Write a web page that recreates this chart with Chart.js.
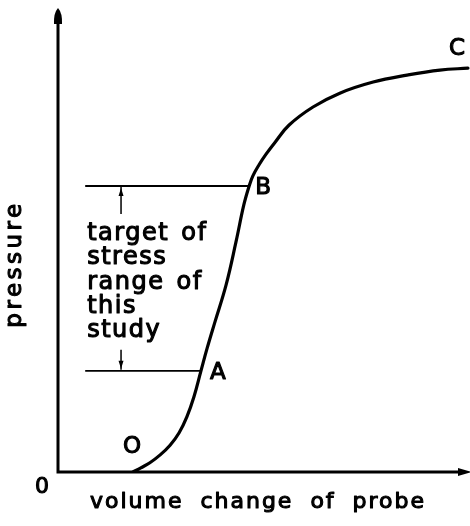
<!DOCTYPE html>
<html>
<head>
<meta charset="utf-8">
<script src="https://cdn.jsdelivr.net/npm/chart.js@4/dist/chart.umd.min.js"></script>
<style>
  html, body { margin: 0; padding: 0; background: #fff; }
  #wrap { width: 470px; height: 526px; }
</style>
</head>
<body>
<div id="wrap"><canvas id="c" width="470" height="526"></canvas></div>
<script>
// Pressure vs. volume change of the probe (schematic units, 0-100 on both axes)
const volume   = [18.2, 20.1, 22.3, 24.8, 27.2, 29.4, 31.3, 33.0, 34.7, 36.2, 38.1, 40.8, 43.2, 45.1, 46.4, 47.3, 48.8, 50.5, 52.7, 56.1, 61.9, 68.4, 76.5, 84.7, 92.7, 99.5];
const pressure = [0.0,  0.9,  2.0,  3.7,  5.8,  8.5, 12.0, 16.3, 21.9, 26.8, 32.5, 40.5, 49.8, 57.8, 61.9, 64.1, 66.5, 68.8, 71.4, 75.1, 79.0, 82.0, 84.4, 85.9, 87.0, 87.4];

// Named points on the curve and where they sit in the arrays above
const pointNames = ['O', 'A', 'B', 'C'];
const pointIndex = [0, 8, 14, 25];

// Horizontal reference lines start here (volume units) and run to A and B
const rangeStart = 6.6;
const arrowX = 15.3;

const targetLines = ['target of', 'stress', 'range of', 'this', 'study'];
const xTitle = 'volume change of probe';
const yTitle = 'pressure';
const originLabel = '0';

const iA = pointIndex[1], iB = pointIndex[2];

const curveData = volume.map((v, i) => ({ x: v, y: pressure[i] }));
const lineA = [{ x: rangeStart, y: pressure[iA] }, { x: volume[iA], y: pressure[iA] }];
const lineB = [{ x: rangeStart, y: pressure[iB] }, { x: volume[iB], y: pressure[iB] }];

const FONT = '"DejaVu Sans", "Liberation Sans", sans-serif';

function drawText(ctx, text, x, y, size, opts = {}) {
  ctx.save();
  ctx.font = size + 'px ' + FONT;
  ctx.letterSpacing = (opts.ls || 0) + 'px';
  ctx.wordSpacing = (opts.ws || 0) + 'px';
  ctx.textAlign = opts.align || 'left';
  ctx.textBaseline = opts.baseline || 'alphabetic';
  ctx.fillStyle = '#000';
  ctx.strokeStyle = '#000';
  ctx.lineWidth = 1.1;
  ctx.lineJoin = 'round';
  ctx.translate(x, y);
  if (opts.rotate) ctx.rotate(opts.rotate);
  ctx.fillText(text, 0, 0);
  ctx.strokeText(text, 0, 0);
  ctx.restore();
}

const annotate = {
  id: 'annotate',
  afterDraw(chart) {
    const { ctx, chartArea: ca, scales: { x, y } } = chart;
    ctx.save();
    ctx.fillStyle = '#000';
    ctx.strokeStyle = '#000';
    ctx.lineCap = 'butt';

    // axes
    const ox = ca.left, oy = ca.bottom;
    ctx.lineWidth = 3;
    ctx.beginPath();
    ctx.moveTo(ox, oy); ctx.lineTo(ox, ca.top + 10);
    ctx.moveTo(ox - 1.5, oy); ctx.lineTo(ca.right - 8, oy);
    ctx.stroke();
    // y axis arrowhead
    ctx.beginPath();
    ctx.moveTo(ox, ca.top - 2);
    ctx.quadraticCurveTo(ox + 4.5, ca.top + 3, ox + 4, ca.top + 14);
    ctx.lineTo(ox - 4, ca.top + 14);
    ctx.quadraticCurveTo(ox - 4.5, ca.top + 3, ox, ca.top - 2);
    ctx.fill();
    // x axis arrowhead
    ctx.beginPath();
    ctx.moveTo(ca.right + 2, oy);
    ctx.lineTo(ca.right - 12, oy - 4);
    ctx.lineTo(ca.right - 12, oy + 4);
    ctx.closePath();
    ctx.fill();

    // range arrows between the reference lines and the text
    const ax = x.getPixelForValue(arrowX);
    const yB = y.getPixelForValue(pressure[iB]);
    const yA = y.getPixelForValue(pressure[iA]);
    ctx.lineWidth = 1.5;
    ctx.beginPath();
    ctx.moveTo(ax, yB + 1); ctx.lineTo(ax, yB + 28);
    ctx.moveTo(ax, yA - 21); ctx.lineTo(ax, yA - 1);
    ctx.stroke();
    ctx.beginPath();
    ctx.moveTo(ax, yB + 2); ctx.lineTo(ax - 2.5, yB + 10); ctx.lineTo(ax + 2.5, yB + 10); ctx.closePath();
    ctx.moveTo(ax, yA - 2); ctx.lineTo(ax - 2.5, yA - 10); ctx.lineTo(ax + 2.5, yA - 10); ctx.closePath();
    ctx.fill();
    ctx.restore();

    // point names
    const offs = [[-1, -25], [17, 2], [14, 2], [-11, -19]];
    pointNames.forEach((n, k) => {
      const i = pointIndex[k];
      const px = x.getPixelForValue(volume[i]);
      const py = y.getPixelForValue(pressure[i]);
      drawText(ctx, n, px + offs[k][0], py + offs[k][1], 23, { align: 'center', baseline: 'middle' });
    });

    // text block between the reference lines
    const tx = x.getPixelForValue(rangeStart) + 2;
    targetLines.forEach((t, k) => {
      drawText(ctx, t, tx, yB + 54 + k * 24.3, 24, { ls: 1.5, ws: 3 });
    });

    // axis titles and origin
    drawText(ctx, xTitle, (ca.left + ca.right) / 2 - 6, ca.bottom + 36, 22, { ls: 2, ws: 8, align: 'center' });
    drawText(ctx, yTitle, 15, (ca.top + ca.bottom) / 2 + 23, 23, { ls: 3.5, align: 'center', baseline: 'middle', rotate: -Math.PI / 2 });
    drawText(ctx, originLabel, ca.left - 16, ca.bottom + 15, 22, { align: 'center', baseline: 'middle' });
  }
};

new Chart(document.getElementById('c'), {
  type: 'scatter',
  data: {
    datasets: [
      { data: curveData, showLine: true, borderColor: '#000', borderWidth: 3.2, pointRadius: 0,
        tension: 0.4, borderCapStyle: 'round' },
      { data: lineB, showLine: true, borderColor: '#000', borderWidth: 1.8, pointRadius: 0 },
      { data: lineA, showLine: true, borderColor: '#000', borderWidth: 1.8, pointRadius: 0 }
    ]
  },
  options: {
    responsive: false,
    animation: false,
    devicePixelRatio: 1,
    layout: { padding: { left: 58, right: 0, top: 10, bottom: 54 } },
    scales: {
      x: { type: 'linear', min: 0, max: 100, display: false },
      y: { type: 'linear', min: 0, max: 100, display: false }
    },
    plugins: { legend: { display: false }, tooltip: { enabled: false } }
  },
  plugins: [annotate]
});
</script>
</body>
</html>
